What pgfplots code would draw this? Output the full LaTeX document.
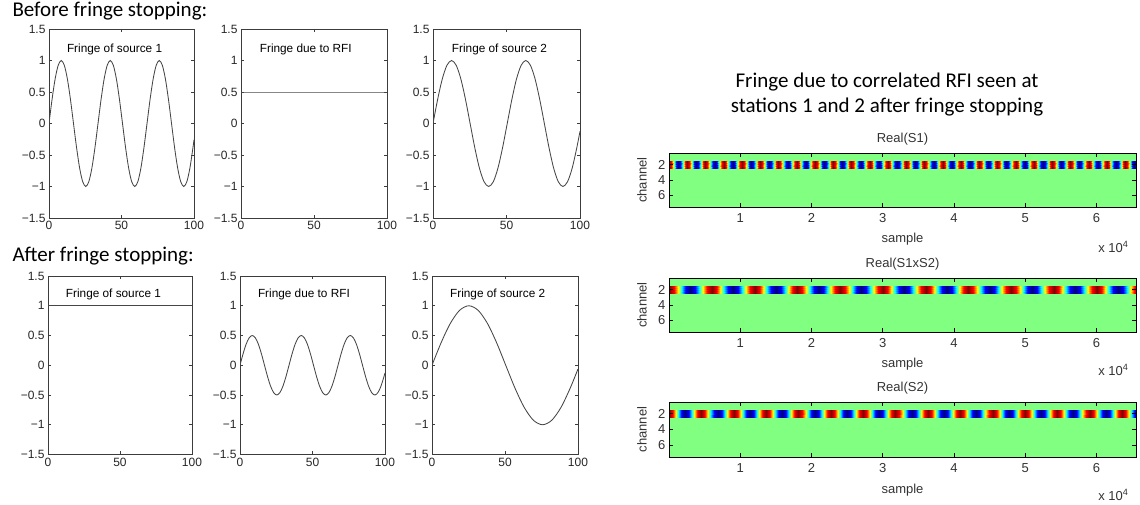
\documentclass[border=0pt]{standalone}
\usepackage{fontspec}
\setmainfont{Liberation Sans}
\newfontfamily\calibri{Carlito}
\usepackage{pgfplots}
\usepackage{pgfplotstable}
\pgfplotsset{compat=1.18}
\definecolor{jetgreen}{RGB}{128,255,128}
\definecolor{axgray}{RGB}{60,60,60}
\definecolor{crvgray}{RGB}{70,70,70}
\pgfplotsset{colormap={wjet}{rgb255(0pt)=(0,0,128); rgb255(23pt)=(0,0,255); rgb255(42pt)=(0,255,255); rgb255(50pt)=(128,255,128); rgb255(58pt)=(255,255,0); rgb255(77pt)=(255,0,0); rgb255(100pt)=(128,0,0)}}

% source 1 (before) and RFI (after), period 33.8
\pgfplotstableread{
x s rfi
0 0 0
2.11 0.3827 0.1913
4.23 0.7071 0.3536
6.34 0.9239 0.4619
8.45 1 0.5
10.56 0.9239 0.4619
12.68 0.7071 0.3536
14.79 0.3827 0.1913
16.90 0 0
19.01 -0.3827 -0.1913
21.13 -0.7071 -0.3536
23.24 -0.9239 -0.4619
25.35 -1 -0.5
27.46 -0.9239 -0.4619
29.58 -0.7071 -0.3536
31.69 -0.3827 -0.1913
33.80 0 0
35.91 0.3827 0.1913
38.03 0.7071 0.3536
40.14 0.9239 0.4619
42.25 1 0.5
44.36 0.9239 0.4619
46.48 0.7071 0.3536
48.59 0.3827 0.1913
50.70 0 0
52.81 -0.3827 -0.1913
54.93 -0.7071 -0.3536
57.04 -0.9239 -0.4619
59.15 -1 -0.5
61.26 -0.9239 -0.4619
63.38 -0.7071 -0.3536
65.49 -0.3827 -0.1913
67.60 0 0
69.71 0.3827 0.1913
71.83 0.7071 0.3536
73.94 0.9239 0.4619
76.05 1 0.5
78.16 0.9239 0.4619
80.28 0.7071 0.3536
82.39 0.3827 0.1913
84.50 0 0
86.61 -0.3827 -0.1913
88.73 -0.7071 -0.3536
90.84 -0.9239 -0.4619
92.95 -1 -0.5
95.06 -0.9239 -0.4619
97.18 -0.7071 -0.3536
99.29 -0.3827 -0.1913
100 -0.2573 -0.1287
}\tA

% source 2 (before), period 50.5
\pgfplotstableread{
x s
0 0
3.16 0.3827
6.31 0.7071
9.47 0.9239
12.63 1
15.78 0.9239
18.94 0.7071
22.09 0.3827
25.25 0
28.41 -0.3827
31.56 -0.7071
34.72 -0.9239
37.88 -1
41.03 -0.9239
44.19 -0.7071
47.34 -0.3827
50.50 0
53.66 0.3827
56.81 0.7071
59.97 0.9239
63.13 1
66.28 0.9239
69.44 0.7071
72.59 0.3827
75.75 0
78.91 -0.3827
82.06 -0.7071
85.22 -0.9239
88.38 -1
91.53 -0.9239
94.69 -0.7071
97.84 -0.3827
100 -0.1241
}\tB

% source 2 (after), period 101
\pgfplotstableread{
x s
0 0
6.31 0.3827
12.63 0.7071
18.94 0.9239
25.25 1
31.56 0.9239
37.88 0.7071
44.19 0.3827
50.50 0
56.81 -0.3827
63.13 -0.7071
69.44 -0.9239
75.75 -1
82.06 -0.9239
88.38 -0.7071
94.69 -0.3827
100 -0.0622
}\tC

\tikzset{lab/.style={anchor=base west, font=\fontsize{11.8}{14}\selectfont},
 xlab/.style={anchor=east, font=\fontsize{13}{15}\selectfont, text=black!80}}
\pgfplotsset{
 lp/.style={scale only axis, anchor=north west, xmin=0, xmax=100, ymin=-1.5, ymax=1.5,
   xtick={0,50,100}, xticklabels={0,50,100},
   ytick={-1.5,-1,-0.5,0,0.5,1,1.5}, yticklabels={−1.5,−1,−0.5,0,0.5,1,1.5},
   tick align=inside, major tick length=3pt,
   axis line style={axgray, line width=0.6pt},
   every tick/.style={axgray, line width=0.5pt},
   tick label style={font=\fontsize{12}{14}\selectfont, text=black!85}},
 fr/.style={crvgray, line width=0.85pt, smooth},
 hm/.style={scale only axis, anchor=north west, width=467pt,
   xmin=0, xmax=65536, ymin=0.5, ymax=7.5, y dir=reverse,
   xtick={10000,20000,30000,40000,50000,60000}, xticklabels={1,2,3,4,5,6}, scaled x ticks=false,
   ytick={2,4,6}, yticklabels={2,4,6},
   tick align=inside, major tick length=4pt, axis on top,
   axis line style={black, line width=0.7pt},
   every tick/.style={black, line width=0.7pt},
   axis background/.style={fill=jetgreen},
   colormap name=wjet, point meta min=-1, point meta max=1,
   tick label style={font=\fontsize{13}{15}\selectfont, text=black!80},
   xticklabel shift=3pt,
   label style={font=\fontsize{13}{15}\selectfont, text=black!80},
   every axis title shift=0pt,
   title style={font=\fontsize{13}{15}\selectfont, text=black!80, at={(axis description cs:0.5,1.25)}, anchor=center},
   xlabel=sample, ylabel=channel,
   xlabel style={at={(axis description cs:0.5,-0.6)}, anchor=center},
   ylabel style={at={(axis description cs:-0.058,0.5)}, anchor=center}},
 st/.style={surf, shader=interp, point meta=explicit, mesh/rows=2, mesh/ordering=y varies}
}

\begin{document}
\begin{tikzpicture}
\path[use as bounding box] (0pt,0pt) rectangle (1140pt,-505pt);

\node[anchor=base west, font=\calibri\fontsize{21}{25}\selectfont] at (9pt,-17pt) {Before fringe stopping:};
\node[anchor=base west, font=\calibri\fontsize{21}{25}\selectfont] at (9pt,-261pt) {After fringe stopping:};
\node[anchor=base, font=\calibri\fontsize{21}{25}\selectfont] at (887pt,-88pt) {Fringe due to correlated RFI seen at};
\node[anchor=base, font=\calibri\fontsize{21}{25}\selectfont] at (887pt,-113pt) {stations 1 and 2 after fringe stopping};

% ---- Before fringe stopping ----
\begin{axis}[lp, at={(49pt,-29pt)}, width=145pt, height=189pt]
\addplot[fr] table[x=x,y=s] {\tA};
\node[lab] at (axis cs:10,1.13) {Fringe of source 1};
\end{axis}
\begin{axis}[lp, at={(241pt,-29pt)}, width=146pt, height=189pt]
\addplot[fr] coordinates {(0,0.5) (100,0.5)};
\node[lab] at (axis cs:10.5,1.13) {Fringe due to RFI};
\end{axis}
\begin{axis}[lp, at={(433pt,-29pt)}, width=147pt, height=189pt]
\addplot[fr] table[x=x,y=s] {\tB};
\node[lab] at (axis cs:10.5,1.13) {Fringe of source 2};
\end{axis}

% ---- After fringe stopping ----
\begin{axis}[lp, at={(48pt,-276pt)}, width=144pt, height=178.5pt]
\addplot[fr] coordinates {(0,1) (100,1)};
\node[lab] at (axis cs:10,1.14) {Fringe of source 1};
\end{axis}
\begin{axis}[lp, at={(240pt,-276pt)}, width=145pt, height=178.5pt]
\addplot[fr] table[x=x,y=rfi] {\tA};
\node[lab] at (axis cs:10,1.14) {Fringe due to RFI};
\end{axis}
\begin{axis}[lp, at={(432pt,-276pt)}, width=146pt, height=178.5pt]
\addplot[fr] table[x=x,y=s] {\tC};
\node[lab] at (axis cs:10,1.14) {Fringe of source 2};
\end{axis}

% ---- Real(S1) ----
\begin{axis}[hm, name=h1, at={(669pt,-153pt)}, height=54pt, title={Real(S1)}]
\addplot[st, mesh/cols=104] coordinates {
(0,1.5)[1] (0,2.5)[1] (640,1.5)[0] (640,2.5)[0] (1280,1.5)[-1] (1280,2.5)[-1] (1920,1.5)[0] (1920,2.5)[0]
(2560,1.5)[1] (2560,2.5)[1] (3200,1.5)[0] (3200,2.5)[0] (3840,1.5)[-1] (3840,2.5)[-1] (4480,1.5)[0] (4480,2.5)[0]
(5120,1.5)[1] (5120,2.5)[1] (5760,1.5)[0] (5760,2.5)[0] (6400,1.5)[-1] (6400,2.5)[-1] (7040,1.5)[0] (7040,2.5)[0]
(7680,1.5)[1] (7680,2.5)[1] (8320,1.5)[0] (8320,2.5)[0] (8960,1.5)[-1] (8960,2.5)[-1] (9600,1.5)[0] (9600,2.5)[0]
(10240,1.5)[1] (10240,2.5)[1] (10880,1.5)[0] (10880,2.5)[0] (11520,1.5)[-1] (11520,2.5)[-1] (12160,1.5)[0] (12160,2.5)[0]
(12800,1.5)[1] (12800,2.5)[1] (13440,1.5)[0] (13440,2.5)[0] (14080,1.5)[-1] (14080,2.5)[-1] (14720,1.5)[0] (14720,2.5)[0]
(15360,1.5)[1] (15360,2.5)[1] (16000,1.5)[0] (16000,2.5)[0] (16640,1.5)[-1] (16640,2.5)[-1] (17280,1.5)[0] (17280,2.5)[0]
(17920,1.5)[1] (17920,2.5)[1] (18560,1.5)[0] (18560,2.5)[0] (19200,1.5)[-1] (19200,2.5)[-1] (19840,1.5)[0] (19840,2.5)[0]
(20480,1.5)[1] (20480,2.5)[1] (21120,1.5)[0] (21120,2.5)[0] (21760,1.5)[-1] (21760,2.5)[-1] (22400,1.5)[0] (22400,2.5)[0]
(23040,1.5)[1] (23040,2.5)[1] (23680,1.5)[0] (23680,2.5)[0] (24320,1.5)[-1] (24320,2.5)[-1] (24960,1.5)[0] (24960,2.5)[0]
(25600,1.5)[1] (25600,2.5)[1] (26240,1.5)[0] (26240,2.5)[0] (26880,1.5)[-1] (26880,2.5)[-1] (27520,1.5)[0] (27520,2.5)[0]
(28160,1.5)[1] (28160,2.5)[1] (28800,1.5)[0] (28800,2.5)[0] (29440,1.5)[-1] (29440,2.5)[-1] (30080,1.5)[0] (30080,2.5)[0]
(30720,1.5)[1] (30720,2.5)[1] (31360,1.5)[0] (31360,2.5)[0] (32000,1.5)[-1] (32000,2.5)[-1] (32640,1.5)[0] (32640,2.5)[0]
(33280,1.5)[1] (33280,2.5)[1] (33920,1.5)[0] (33920,2.5)[0] (34560,1.5)[-1] (34560,2.5)[-1] (35200,1.5)[0] (35200,2.5)[0]
(35840,1.5)[1] (35840,2.5)[1] (36480,1.5)[0] (36480,2.5)[0] (37120,1.5)[-1] (37120,2.5)[-1] (37760,1.5)[0] (37760,2.5)[0]
(38400,1.5)[1] (38400,2.5)[1] (39040,1.5)[0] (39040,2.5)[0] (39680,1.5)[-1] (39680,2.5)[-1] (40320,1.5)[0] (40320,2.5)[0]
(40960,1.5)[1] (40960,2.5)[1] (41600,1.5)[0] (41600,2.5)[0] (42240,1.5)[-1] (42240,2.5)[-1] (42880,1.5)[0] (42880,2.5)[0]
(43520,1.5)[1] (43520,2.5)[1] (44160,1.5)[0] (44160,2.5)[0] (44800,1.5)[-1] (44800,2.5)[-1] (45440,1.5)[0] (45440,2.5)[0]
(46080,1.5)[1] (46080,2.5)[1] (46720,1.5)[0] (46720,2.5)[0] (47360,1.5)[-1] (47360,2.5)[-1] (48000,1.5)[0] (48000,2.5)[0]
(48640,1.5)[1] (48640,2.5)[1] (49280,1.5)[0] (49280,2.5)[0] (49920,1.5)[-1] (49920,2.5)[-1] (50560,1.5)[0] (50560,2.5)[0]
(51200,1.5)[1] (51200,2.5)[1] (51840,1.5)[0] (51840,2.5)[0] (52480,1.5)[-1] (52480,2.5)[-1] (53120,1.5)[0] (53120,2.5)[0]
(53760,1.5)[1] (53760,2.5)[1] (54400,1.5)[0] (54400,2.5)[0] (55040,1.5)[-1] (55040,2.5)[-1] (55680,1.5)[0] (55680,2.5)[0]
(56320,1.5)[1] (56320,2.5)[1] (56960,1.5)[0] (56960,2.5)[0] (57600,1.5)[-1] (57600,2.5)[-1] (58240,1.5)[0] (58240,2.5)[0]
(58880,1.5)[1] (58880,2.5)[1] (59520,1.5)[0] (59520,2.5)[0] (60160,1.5)[-1] (60160,2.5)[-1] (60800,1.5)[0] (60800,2.5)[0]
(61440,1.5)[1] (61440,2.5)[1] (62080,1.5)[0] (62080,2.5)[0] (62720,1.5)[-1] (62720,2.5)[-1] (63360,1.5)[0] (63360,2.5)[0]
(64000,1.5)[1] (64000,2.5)[1] (64640,1.5)[0] (64640,2.5)[0] (65280,1.5)[-1] (65280,2.5)[-1] (65920,1.5)[0] (65920,2.5)[0]
};
\end{axis}
\node[xlab] at ([xshift=-4pt,yshift=-40pt]h1.south east) {x 10\textsuperscript{4}};

% ---- Real(S1xS2) ----
\begin{axis}[hm, name=h2, at={(669pt,-278pt)}, height=54pt, title={Real(S1xS2)}]
\addplot[st, mesh/cols=45] coordinates {
(0,1.5)[1] (0,2.5)[1] (1500,1.5)[0] (1500,2.5)[0] (3000,1.5)[-1] (3000,2.5)[-1] (4500,1.5)[0] (4500,2.5)[0]
(6000,1.5)[1] (6000,2.5)[1] (7500,1.5)[0] (7500,2.5)[0] (9000,1.5)[-1] (9000,2.5)[-1] (10500,1.5)[0] (10500,2.5)[0]
(12000,1.5)[1] (12000,2.5)[1] (13500,1.5)[0] (13500,2.5)[0] (15000,1.5)[-1] (15000,2.5)[-1] (16500,1.5)[0] (16500,2.5)[0]
(18000,1.5)[1] (18000,2.5)[1] (19500,1.5)[0] (19500,2.5)[0] (21000,1.5)[-1] (21000,2.5)[-1] (22500,1.5)[0] (22500,2.5)[0]
(24000,1.5)[1] (24000,2.5)[1] (25500,1.5)[0] (25500,2.5)[0] (27000,1.5)[-1] (27000,2.5)[-1] (28500,1.5)[0] (28500,2.5)[0]
(30000,1.5)[1] (30000,2.5)[1] (31500,1.5)[0] (31500,2.5)[0] (33000,1.5)[-1] (33000,2.5)[-1] (34500,1.5)[0] (34500,2.5)[0]
(36000,1.5)[1] (36000,2.5)[1] (37500,1.5)[0] (37500,2.5)[0] (39000,1.5)[-1] (39000,2.5)[-1] (40500,1.5)[0] (40500,2.5)[0]
(42000,1.5)[1] (42000,2.5)[1] (43500,1.5)[0] (43500,2.5)[0] (45000,1.5)[-1] (45000,2.5)[-1] (46500,1.5)[0] (46500,2.5)[0]
(48000,1.5)[1] (48000,2.5)[1] (49500,1.5)[0] (49500,2.5)[0] (51000,1.5)[-1] (51000,2.5)[-1] (52500,1.5)[0] (52500,2.5)[0]
(54000,1.5)[1] (54000,2.5)[1] (55500,1.5)[0] (55500,2.5)[0] (57000,1.5)[-1] (57000,2.5)[-1] (58500,1.5)[0] (58500,2.5)[0]
(60000,1.5)[1] (60000,2.5)[1] (61500,1.5)[0] (61500,2.5)[0] (63000,1.5)[-1] (63000,2.5)[-1] (64500,1.5)[0] (64500,2.5)[0]
(66000,1.5)[1] (66000,2.5)[1]
};
\end{axis}
\node[xlab] at ([xshift=-4pt,yshift=-38pt]h2.south east) {x 10\textsuperscript{4}};

% ---- Real(S2) ----
\begin{axis}[hm, name=h3, at={(669pt,-402pt)}, height=55pt, title={Real(S2)}]
\addplot[st, mesh/cols=60] coordinates {
(0,1.5)[1] (0,2.5)[1] (1135,1.5)[0] (1135,2.5)[0] (2270,1.5)[-1] (2270,2.5)[-1] (3405,1.5)[0] (3405,2.5)[0]
(4540,1.5)[1] (4540,2.5)[1] (5675,1.5)[0] (5675,2.5)[0] (6810,1.5)[-1] (6810,2.5)[-1] (7945,1.5)[0] (7945,2.5)[0]
(9080,1.5)[1] (9080,2.5)[1] (10215,1.5)[0] (10215,2.5)[0] (11350,1.5)[-1] (11350,2.5)[-1] (12485,1.5)[0] (12485,2.5)[0]
(13620,1.5)[1] (13620,2.5)[1] (14755,1.5)[0] (14755,2.5)[0] (15890,1.5)[-1] (15890,2.5)[-1] (17025,1.5)[0] (17025,2.5)[0]
(18160,1.5)[1] (18160,2.5)[1] (19295,1.5)[0] (19295,2.5)[0] (20430,1.5)[-1] (20430,2.5)[-1] (21565,1.5)[0] (21565,2.5)[0]
(22700,1.5)[1] (22700,2.5)[1] (23835,1.5)[0] (23835,2.5)[0] (24970,1.5)[-1] (24970,2.5)[-1] (26105,1.5)[0] (26105,2.5)[0]
(27240,1.5)[1] (27240,2.5)[1] (28375,1.5)[0] (28375,2.5)[0] (29510,1.5)[-1] (29510,2.5)[-1] (30645,1.5)[0] (30645,2.5)[0]
(31780,1.5)[1] (31780,2.5)[1] (32915,1.5)[0] (32915,2.5)[0] (34050,1.5)[-1] (34050,2.5)[-1] (35185,1.5)[0] (35185,2.5)[0]
(36320,1.5)[1] (36320,2.5)[1] (37455,1.5)[0] (37455,2.5)[0] (38590,1.5)[-1] (38590,2.5)[-1] (39725,1.5)[0] (39725,2.5)[0]
(40860,1.5)[1] (40860,2.5)[1] (41995,1.5)[0] (41995,2.5)[0] (43130,1.5)[-1] (43130,2.5)[-1] (44265,1.5)[0] (44265,2.5)[0]
(45400,1.5)[1] (45400,2.5)[1] (46535,1.5)[0] (46535,2.5)[0] (47670,1.5)[-1] (47670,2.5)[-1] (48805,1.5)[0] (48805,2.5)[0]
(49940,1.5)[1] (49940,2.5)[1] (51075,1.5)[0] (51075,2.5)[0] (52210,1.5)[-1] (52210,2.5)[-1] (53345,1.5)[0] (53345,2.5)[0]
(54480,1.5)[1] (54480,2.5)[1] (55615,1.5)[0] (55615,2.5)[0] (56750,1.5)[-1] (56750,2.5)[-1] (57885,1.5)[0] (57885,2.5)[0]
(59020,1.5)[1] (59020,2.5)[1] (60155,1.5)[0] (60155,2.5)[0] (61290,1.5)[-1] (61290,2.5)[-1] (62425,1.5)[0] (62425,2.5)[0]
(63560,1.5)[1] (63560,2.5)[1] (64695,1.5)[0] (64695,2.5)[0] (65830,1.5)[-1] (65830,2.5)[-1] (66965,1.5)[0] (66965,2.5)[0]
};
\end{axis}
\node[xlab] at ([xshift=-4pt,yshift=-38pt]h3.south east) {x 10\textsuperscript{4}};
\end{tikzpicture}
\end{document}
